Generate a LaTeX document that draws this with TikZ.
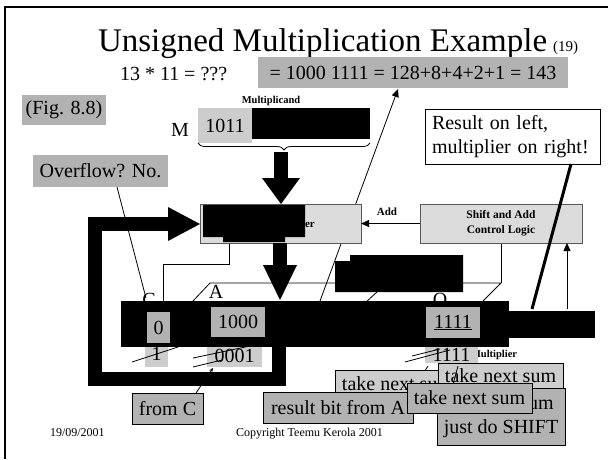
\documentclass[tikz,border=0pt]{standalone}
\usepackage{fontspec}
\setmainfont{Liberation Serif}
\usetikzlibrary{arrows.meta,decorations.pathreplacing}
\definecolor{darkg}{HTML}{B2B2B2}
\definecolor{lightg}{HTML}{CDCDCD}
\definecolor{unitg}{HTML}{DCDCDC}
\newcommand\fsz[2]{\fontsize{#1}{#2}\selectfont}
\begin{document}
\begin{tikzpicture}[x=1pt,y=-1pt,
  every node/.style={inner sep=0pt,outer sep=0pt},
  box/.style={anchor=north west,align=center,font=\fsz{20}{24}},
  dark/.style={box,fill=darkg},
  light/.style={box,fill=lightg},
  callout/.style={draw=black,line width=0.7pt},
  unit/.style={box,fill=unitg,draw=gray!70!black,line width=0.8pt,font=\bfseries\fsz{11.5}{15}},
  big/.style={font=\fsz{20}{24}},
  small/.style={font=\bfseries\fsz{10.5}{12}},
  thin/.style={line width=0.8pt},
  arr/.style={thin,-{Triangle[width=7pt,length=8pt]}},
  fat/.style={line width=14pt,line join=miter}]
\useasboundingbox (0,0) rectangle (608,459);
% frame
\draw[line width=2.5pt] (5,459) -- (5,7) -- (608,7);
% title
\node[anchor=base west,font=\fsz{33}{38}] (title) at (98,51) {Unsigned Multiplication Example};
\node[anchor=base west,font=\fsz{15}{18}] (num) at ([xshift=6pt]title.base east) {(19)};
\node[anchor=base west,big] (q) at (120,80) {13 * 11 = ???};
\node[dark,minimum width=310pt,minimum height=31pt] (eq) at (258,57) {= 1000 1111 = 128+8+4+2+1 = 143};
\node[dark,minimum width=84pt,minimum height=30pt] (fig) at (22,95) {(Fig. 8.8)};
% multiplicand
\node[anchor=base,small] (mcand) at (271,103) {Multiplicand};
\node[anchor=base west,big] (M) at (171,136) {M};
\node[light,minimum width=54pt,minimum height=35pt] (m1011) at (198,108) {1011};
\node[box,fill=black,minimum width=118pt,minimum height=31pt] (mblk) at (252,108) {};
\draw[thin,decorate,decoration={brace,mirror,amplitude=7pt}] (m1011.south west) -- (mblk.south east |- m1011.south);
\node[dark,minimum width=135pt,minimum height=32pt] (ovf) at (33,155) {Overflow? No.};
\node[box,draw,line width=0.8pt,fill=white,minimum height=55pt,inner xsep=7pt,text width=161pt,align=left] (res) at (425,109) {Result on left,\\multiplier on right!};
% register labels (partly hidden later)
\node[anchor=base,big] (lC) at (149,306) {C};
\node[anchor=base,big] (lA) at (216,298) {A};
\node[anchor=base,big] (lQ) at (440,306) {Q};
% thin connectors
\coordinate (pl) at (193,301); \coordinate (pt) at (210,283);
\coordinate (pr) at (501,283); \coordinate (pb) at (483,301);
\coordinate (cb) at (501,243);
\draw[thin] (pl) -- (pt) -- (pr) -- (pb);
\draw[thin] (cb) -- (pr);
\coordinate (aS) at (320,301); \coordinate (aT) at (398,89);
\draw[arr] (aS) -- (aT);
\coordinate (oS) at (117,187); \coordinate (oT) at (146,298);
\draw[thin] (oS) -- (oT);
\coordinate (d1) at (377,292); \coordinate (d2) at (366,302);
\draw[thin] (d1) -- (d2);
\coordinate (cS) at (229,243); \coordinate (cM) at (163,264); \coordinate (cE) at (163,302);
\draw[thin] (cS) |- (cM) -- (cE);
% black block
\fill (350,255) -- (463,255) -- (463,292) -- (335,292) -- (335,261) -- (350,261) -- cycle;
% adder and control
\node[unit,minimum width=161pt,minimum height=39pt] (adder) at (200,204) {};
\fill (203,205) -- (305,205) -- (305,237) -- (285,237) -- (285,242) -- (223,242) -- (223,237) -- (203,237) -- cycle;
\node[anchor=base west,font=\bfseries\fsz{11}{13}] (er) at (305,227) {er};
\node[unit,minimum width=162pt,minimum height=39pt] (ctl) at (420,204) {Shift and Add\\Control Logic};
\node[anchor=base,font=\bfseries\fsz{11}{13}] (addl) at (387,215) {Add};
\draw[arr] (ctl.west |- adder.east) -- (adder.east);
% fat arrows
\fill (274,152) rectangle (288,180);
\fill (262,178) -- (300,178) -- (281,204) -- cycle;
\fill (273,243) rectangle (287,266);
\fill (263,265) -- (297,265) -- (280,300) -- cycle;
\draw[fat] (279,340) -- (279,378.5) -- (95,378.5) -- (95,224) -- (169,224);
\fill (168,207) -- (200,224) -- (168,241) -- cycle;
% result pointer and up arrow
\coordinate (rS) at (571,164); \coordinate (rE) at (532,309);
\draw[line width=3pt] (rS) -- (rE);
\coordinate (u0) at (567,309);
\draw[arr] (u0) -- (u0 |- ctl.south);
% below register
\node[anchor=base west,small] (mplier) at (471,357) {Multiplier};
\node[light,minimum width=23pt,minimum height=20pt] (l1) at (145,347) {};
\node[anchor=base,big] (l1t) at (156.5,360) {1};
\node[light,minimum width=55pt,minimum height=20pt] (l0001) at (207,347) {};
\node[anchor=base,big] (l0001t) at (234.5,362) {0001};
\node[light,minimum width=53pt,minimum height=16pt] (l1111) at (425,347) {};
\node[anchor=base,big] (l1111t) at (451.5,361) {1111};
% register
\node[box,fill=black,minimum width=388pt,minimum height=46pt] (reg) at (121,301) {};
\node[box,fill=black,minimum width=86pt,minimum height=27pt] (regx) at (509,311) {};
\node[dark,minimum width=23pt,minimum height=31pt] (r0) at (147,312) {0};
\node[dark,minimum width=54pt,minimum height=30pt] (r1000) at (211,307) {1000};
\node[dark,minimum width=54pt,minimum height=31pt] (r1111) at (426,307) {\underline{1111}};
% strike marks
\draw[thin] (132,362) -- (178,347);
\draw[thin] (193,358) -- (250,346);
\draw[thin] (193,367) -- (222,360);
\draw[thin] (405,362) -- (450,350);
\draw[thin] (412,356) -- (440,349);
\draw[thin] (428,366) -- (417,383);
% callouts
\node[dark,callout,minimum width=71pt,minimum height=31pt] (fromc) at (132,393) {from C};
\draw[thin,-{Stealth[length=4pt,width=3.5pt]}] (fromc.north -| 196,0) -- (213,368);
\node[light,callout,minimum width=125pt,minimum height=27pt] (takeA) at (335,370) {take next sum};
\node[dark,callout,minimum width=150pt,minimum height=31pt] (resbit) at (263,392) {result bit from A};
\node[light,callout,minimum width=125pt,minimum height=26pt] (takeB) at (438,363) {take next sum};
\draw[thin] (458,366) -- (452,388);
\node[dark,callout,minimum width=128pt,minimum height=57pt] (skip) at (437,388) {skip this sum\\just do SHIFT};
\node[dark,callout,minimum width=125pt,minimum height=30pt] (takeC) at (407,383) {take next sum};
% footer
\node[anchor=base west,font=\fsz{12}{14}] (date) at (50,436) {19/09/2001};
\node[anchor=base west,font=\fsz{12}{14}] (copy) at (236,436) {Copyright Teemu Kerola 2001};
\end{tikzpicture}
\end{document}
